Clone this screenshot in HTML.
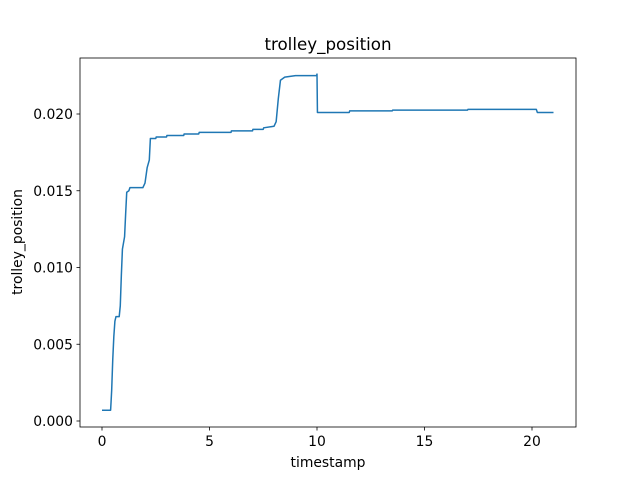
<!DOCTYPE html>
<html><head><meta charset="utf-8"><style>
body{margin:0;background:#fff;}
svg{display:block;font-family:"DejaVu Sans","Liberation Sans",sans-serif;}
</style></head><body>
<svg id="chart" width="640" height="480">
<rect x="0" y="0" width="640" height="480" fill="#fff"/>
<text x="328" y="50" font-size="16.7" text-anchor="middle">trolley_position</text>
<g id="xt"></g><g id="yt"></g>
<polyline id="line" fill="none" stroke="#1f77b4" stroke-width="1.5" stroke-linejoin="round"/>
<rect x="80" y="58" width="496" height="369" fill="none" stroke="#000" stroke-width="0.8"/>
<text x="328" y="467" font-size="13.9" text-anchor="middle">timestamp</text>
<text x="22" y="242" font-size="13.9" text-anchor="middle" transform="rotate(-90 22 242)">trolley_position</text>
</svg>
<script>
const times=[0,0.4,0.42,0.45,0.5,0.55,0.6,0.65,0.8,0.85,0.9,0.95,1.05,1.1,1.15,1.25,1.3,1.35,1.9,2.0,2.1,2.2,2.25,2.5,2.52,3.0,3.02,3.8,3.82,4.5,4.52,6.0,6.02,7.0,7.02,7.5,7.52,8.0,8.1,8.2,8.3,8.5,9,9.98,10,10.02,11.5,11.52,13.5,13.52,17,17.02,20.2,20.25,21];
const values=[0.0007,0.0007,0.0012,0.002,0.004,0.0055,0.0065,0.0068,0.0068,0.0075,0.0095,0.0112,0.012,0.0135,0.0149,0.015,0.0152,0.0152,0.0152,0.0155,0.0165,0.017,0.0184,0.0184,0.0185,0.0185,0.0186,0.0186,0.0187,0.0187,0.0188,0.0188,0.0189,0.0189,0.019,0.019,0.0191,0.0192,0.0195,0.021,0.0222,0.0224,0.0225,0.0225,0.0226,0.0201,0.0201,0.0202,0.0202,0.02025,0.02025,0.0203,0.0203,0.0201,0.0201];
const xTicks=[0,5,10,15,20];
const yTicks=[0,0.005,0.01,0.015,0.02];
const yTickLabels=["0.000","0.005","0.010","0.015","0.020"];
const X=t=>102+t*21.5;
const Y=v=>421-v*15350;
const ns="http://www.w3.org/2000/svg";
const xt=document.getElementById('xt'),yt=document.getElementById('yt');
xTicks.forEach(t=>{
 const l=document.createElementNS(ns,'line');
 l.setAttribute('x1',X(t));l.setAttribute('x2',X(t));l.setAttribute('y1',427);l.setAttribute('y2',430.5);l.setAttribute('stroke','#000');l.setAttribute('stroke-width','0.8');
 
 
 xt.appendChild(l);
 const s=document.createElementNS(ns,'text');
 s.setAttribute('x',X(t));s.setAttribute('y',446);s.setAttribute('font-size','13.9');s.setAttribute('text-anchor','middle');s.textContent=t;
 
 
 xt.appendChild(s);
});
yTicks.forEach((v,i)=>{
 const l=document.createElementNS(ns,'line');
 l.setAttribute('x1',76.5);l.setAttribute('x2',80);l.setAttribute('y1',Y(v));l.setAttribute('y2',Y(v));l.setAttribute('stroke','#000');l.setAttribute('stroke-width','0.8');
 
 
 yt.appendChild(l);
 const s=document.createElementNS(ns,'text');
 s.setAttribute('x',73);s.setAttribute('y',Y(v)+5);s.setAttribute('font-size','13.9');s.setAttribute('text-anchor','end');s.textContent=yTickLabels[i];
 
 
 yt.appendChild(s);
});
let pts=[];
for(let i=0;i<times.length;i++){
 pts.push(X(times[i])+','+Y(values[i]));
}
document.getElementById('line').setAttribute('points',pts.join(' '));
</script>
</body></html>
